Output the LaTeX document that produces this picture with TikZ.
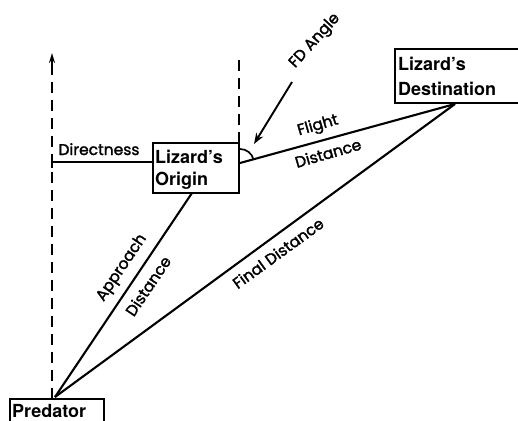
\documentclass[tikz,border=0pt]{standalone}
\usepackage{fontspec}
\setmainfont{TeX Gyre Heros}
\newfontfamily\labfont[FakeBold=1.8]{Poppins}
\usetikzlibrary{arrows.meta}
\tikzset{
  thick line/.style={line width=2.1pt},
  dash line/.style={line width=1.8pt, dash pattern=on 11pt off 7pt},
  boxline/.style={line width=1.3pt},
  boxtext/.style={font=\fontsize{18}{22}\selectfont\bfseries, align=left, anchor=base west, inner sep=0pt},
  lab/.style={font=\labfont\fontsize{15.5}{17}\selectfont, inner sep=0pt},
}
\begin{document}
\begin{tikzpicture}[x=1pt,y=-1pt]
\useasboundingbox (0,0) rectangle (518,420);
% boxes
\draw[boxline] (153,143) rectangle (239,193);
\node[boxtext] (o1) at (155,163) {Lizard's};
\node[boxtext] (o2) at (155,185) {Origin};
\draw[boxline] (395,49) rectangle (530,103);
\node[boxtext] (d1) at (398,70) {Lizard's};
\node[boxtext] (d2) at (398,95) {Destination};
\draw[boxline] (10,399) rectangle (104,440);
\node[boxtext] (p1) at (12,417) {Predator};
% coordinates
\coordinate (P) at (55,397);
\coordinate (O) at (240,163);
\coordinate (Ob) at (192,193);
\coordinate (D) at (455,104);
\coordinate (L0) at (52,399);
\coordinate (L1) at (52,53);
\coordinate (V0) at (239,143);
\coordinate (V1) at (239,57);
\coordinate (Dl) at (52,162);
\coordinate (Ol) at (153,162);
% dashed verticals
\draw[dash line] (L0) -- (52,62);
\draw[line width=1.8pt, -{Stealth[length=10pt,width=6pt]}] (52,64) -- (L1);
\draw[dash line] (V0) -- (V1);
% directness
\draw[thick line] (Dl) -- (Ol);
\draw[line width=1.8pt] (52,156) -- (52,168);
\node[lab, anchor=base] (dir) at (99,155) {Directness};
% flight
\draw[thick line] (O) -- (D);
\draw[line width=1.7pt] (240,149) arc[start angle=-90, end angle=-15, radius=14];
\node[lab, rotate=16] (fl) at (318,126) {Flight};
\node[lab, rotate=16] (fd) at (328,153) {Distance};
% FD angle
\coordinate (A0) at (292,82);
\coordinate (A1) at (254,144);
\draw[line width=1.9pt, -{Stealth[length=11pt,width=8pt]}] (A0) -- (A1);
\node[lab, rotate=48] (fda) at (315,41) {FD Angle};
% approach
\draw[thick line] (P) -- (Ob);
\node[lab, rotate=56] (ap) at (122,268) {Approach};
\node[lab, rotate=56] (ad) at (148,286) {Distance};
% final
\draw[thick line] (P) -- (D);
\node[lab, rotate=36] (fi) at (278,253) {Final Distance};
\end{tikzpicture}
\end{document}
